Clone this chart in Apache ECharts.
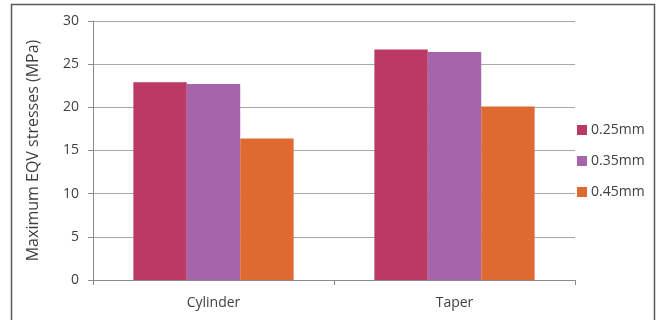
<!DOCTYPE html>
<html><head><meta charset="utf-8">
<script src="https://cdn.jsdelivr.net/npm/echarts@6/dist/echarts.min.js"></script>
<style>html,body{margin:0;padding:0;background:#fff}#c{width:660px;height:320px}</style>
</head><body><div id="c"></div>
<script>
const categories = ['Cylinder', 'Taper'];
const seriesNames = ['0.25mm', '0.35mm', '0.45mm'];
const s025 = [22.9, 26.7];
const s035 = [22.7, 26.4];
const s045 = [16.4, 20.1];
const yTicks = [0, 5, 10, 15, 20, 25, 30];
const colors = ['#BA3A65', '#A664AA', '#DF6A31'];
const values = [s025, s035, s045];

const chart = echarts.init(document.getElementById('c'), null, {renderer: 'canvas'});
const font = 'Open Sans';
chart.setOption({
  animation: false,
  textStyle: {fontFamily: font},
  graphic: [{
    type: 'rect', silent: true, z: -1,
    shape: {x: 11.5, y: 4.5, width: 643, height: 330},
    style: {fill: 'none', stroke: '#5a5a5a', lineWidth: 1.5}
  }],
  grid: {left: 93, right: 85, top: 21, bottom: 40},
  legend: {
    orient: 'vertical', left: 572, top: 118, itemGap: 17,
    itemWidth: 10, itemHeight: 10, icon: 'rect',
    textStyle: {fontFamily: font, fontSize: 14, color: '#404040', padding: [0,0,0,-1]},
    data: seriesNames
  },
  xAxis: {
    type: 'category', data: categories,
    axisLine: {lineStyle: {color: '#8a8a8a', width: 1}},
    axisTick: {show: true, length: 5, lineStyle: {color: '#8a8a8a'}},
    axisLabel: {fontFamily: font, fontSize: 14, color: '#404040', margin: 16}
  },
  yAxis: {
    type: 'value', min: yTicks[0], max: yTicks[yTicks.length-1], interval: 5,
    name: 'Maximum EQV stresses (MPa)', nameLocation: 'middle', nameGap: 52,
    nameTextStyle: {fontFamily: font, fontSize: 16, color: '#404040'},
    axisLine: {show: true, lineStyle: {color: '#8a8a8a'}},
    axisTick: {show: true, length: 5, lineStyle: {color: '#8a8a8a'}},
    axisLabel: {fontFamily: font, fontSize: 14, color: '#404040', margin: 14},
    splitLine: {lineStyle: {color: '#a8a8a8', width: 1}}
  },
  series: seriesNames.map((n, i) => ({
    name: n, type: 'bar', data: values[i],
    itemStyle: {color: colors[i]},
    barGap: '0%', barCategoryGap: '33.5%'
  }))
});
</script></body></html>
